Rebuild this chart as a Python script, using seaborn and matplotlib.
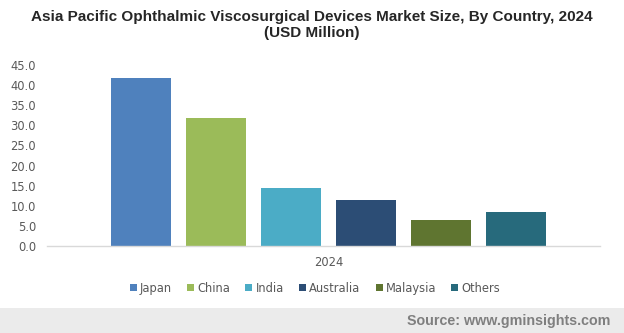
import matplotlib
matplotlib.use("Agg")
import matplotlib.pyplot as plt
import seaborn as sns
import pandas as pd
from matplotlib.patches import Rectangle

years = ["2024"]
countries = ["Japan", "China", "India", "Australia", "Malaysia", "Others"]
values = [41.8, 31.8, 14.4, 11.4, 6.5, 8.5]
colors = ["#4F81BD", "#9BBB59", "#4BACC6", "#2C4D75", "#5F7530", "#276A7C"]
yticks = [0, 5, 10, 15, 20, 25, 30, 35, 40, 45]

df = pd.DataFrame({"Year": years * len(countries), "Country": countries, "Value": values})

sns.set_style("white")
plt.rcParams["font.family"] = ["DejaVu Sans"]

fig = plt.figure(figsize=(6.24, 3.33), dpi=100)
ax = fig.add_axes([0.0753, 0.261, 0.886, 0.544])

sns.barplot(data=df, x="Year", y="Value", hue="Country", hue_order=countries,
            palette=colors, width=0.814, gap=0.21, saturation=1, ax=ax, errorbar=None,
            legend=True, linewidth=0)

ax.set_ylim(0, 45)
ax.set_xlim(-0.509, 0.491)
ax.set_yticks(yticks)
ax.set_yticklabels([f"{v:.1f}" for v in yticks], color="#595959", fontsize=8.3)
ax.tick_params(axis="x", colors="#595959", labelsize=8.3, length=0, pad=7)
ax.tick_params(axis="y", length=0, pad=8)
ax.set_xlabel("")
ax.set_ylabel("")
for s in ["top", "right", "left"]:
    ax.spines[s].set_visible(False)
ax.spines["bottom"].set_color("#D9D9D9")
ax.spines["bottom"].set_linewidth(1.0)

leg = ax.legend(loc="center", bbox_to_anchor=(0.485, -0.232), ncol=6, frameon=False,
                fontsize=8.3, handlelength=0.6, handleheight=0.6, handletextpad=0.3,
                columnspacing=1.3)
for t in leg.get_texts():
    t.set_color("#595959")

fig.text(0.5, 1 - 17 / 333, "Asia Pacific Ophthalmic Viscosurgical Devices Market Size, By Country, 2024",
         ha="center", va="center", fontsize=11, fontweight="bold", family="Liberation Sans", color="#262626")
fig.text(0.5, 1 - 33 / 333, "(USD Million)", ha="center", va="center", fontsize=11,
         fontweight="bold", family="Liberation Sans", color="#262626")

fig.patches.append(Rectangle((0, 0), 1, 25 / 333, transform=fig.transFigure,
                             facecolor="#EBEBEB", edgecolor="none", zorder=0))
fig.text(0.978, 12.5 / 333, "Source: www.gminsights.com", ha="right", va="center",
         fontsize=10.3, fontweight="bold", family="Liberation Sans", color="#7F7F7F")

fig.savefig("out.png", dpi=100)
